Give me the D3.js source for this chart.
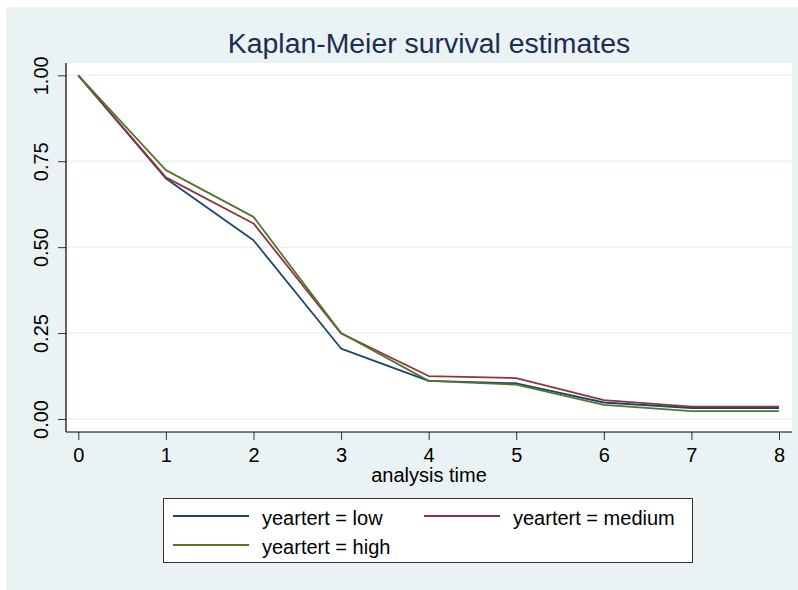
<!DOCTYPE html>
<html>
<head>
<meta charset="utf-8">
<script src="https://cdn.jsdelivr.net/npm/d3@7"></script>
<style>
  body { margin: 0; background: #fff; }
  svg { display: block; font-family: "Liberation Sans", Arial, Helvetica, sans-serif; }
  .tick text { font-size: 20px; fill: #000; }
  .tick line { stroke: #333; }
</style>
</head>
<body>
<div class="wrapper"></div>
<script>
// chart values
var times = [0, 1, 2, 3, 4, 5, 6, 7, 8];
var lowVals = [1.0, 0.70, 0.52, 0.205, 0.111, 0.104, 0.048, 0.032, 0.032];
var mediumVals = [1.0, 0.703, 0.569, 0.249, 0.125, 0.119, 0.055, 0.036, 0.036];
var highVals = [1.0, 0.724, 0.588, 0.25, 0.111, 0.100, 0.041, 0.023, 0.023];
var seriesNames = ["yeartert = low", "yeartert = medium", "yeartert = high"];
var seriesColors = ["#1a476f", "#90353b", "#55752f"];
var yTicks = [0, 0.25, 0.5, 0.75, 1];
var xTicks = [0, 1, 2, 3, 4, 5, 6, 7, 8];

var W = 798, H = 590;

var svg = d3
  .select(".wrapper")
  .append("svg")
  .attr("width", W)
  .attr("height", H);

// graph region background
svg.append("rect")
  .attr("x", 6).attr("y", 7)
  .attr("width", 792).attr("height", 583)
  .attr("fill", "#eaf2f3");

// plot region
var plot = { left: 66, right: 792, top: 63, bottom: 432 };
svg.append("rect")
  .attr("x", plot.left).attr("y", plot.top)
  .attr("width", plot.right - plot.left).attr("height", plot.bottom - plot.top)
  .attr("fill", "#fff");

var x = d3.scaleLinear().domain([0, 8]).range([78.3, 779]);
var y = d3.scaleLinear().domain([0, 1]).range([419, 75.3]);

// gridlines
svg.append("g")
  .selectAll("line")
  .data(yTicks)
  .enter()
  .append("line")
  .attr("x1", plot.left + 1).attr("x2", plot.right)
  .attr("y1", function(d) { return y(d); })
  .attr("y2", function(d) { return y(d); })
  .attr("stroke", "#eaf2f3")
  .attr("stroke-width", 1.5);

// title
svg.append("text")
  .attr("x", (plot.left + plot.right) / 2)
  .attr("y", 53)
  .attr("text-anchor", "middle")
  .attr("font-size", 28.4)
  .attr("fill", "#1c2e52")
  .text("Kaplan-Meier survival estimates");

// series lines
var line = d3.line()
  .x(function(d, i) { return x(times[i]); })
  .y(function(d) { return y(d); });

var allSeries = [lowVals, mediumVals, highVals];
svg.append("g")
  .selectAll("path")
  .data(allSeries)
  .enter()
  .append("path")
  .attr("d", line)
  .attr("fill", "none")
  .attr("stroke", function(d, i) { return seriesColors[i]; })
  .attr("stroke-width", 1.8)
  .attr("stroke-linejoin", "round");

// y axis
var yAxis = svg.append("g")
  .attr("transform", "translate(" + plot.left + ",0)")
  .call(d3.axisLeft(y).tickValues(yTicks).tickSize(8).tickFormat(d3.format(".2f")));
yAxis.select(".domain").remove();
yAxis.selectAll(".tick text")
  .attr("x", 0).attr("dy", 0)
  .attr("text-anchor", "middle")
  .attr("transform", "translate(-18,0) rotate(-90)");

// x axis
var xAxis = svg.append("g")
  .attr("transform", "translate(0," + plot.bottom + ")")
  .call(d3.axisBottom(x).tickValues(xTicks).tickSize(8).tickFormat(d3.format("d")));
xAxis.select(".domain").remove();
xAxis.selectAll(".tick text").attr("y", 30).attr("dy", 0);

// axis lines
svg.append("line")
  .attr("x1", plot.left).attr("x2", plot.left)
  .attr("y1", plot.top).attr("y2", plot.bottom)
  .attr("stroke", "#000").attr("stroke-width", 1.2);
svg.append("line")
  .attr("x1", plot.left).attr("x2", plot.right)
  .attr("y1", plot.bottom).attr("y2", plot.bottom)
  .attr("stroke", "#000").attr("stroke-width", 1.2);

// axis title
svg.append("text")
  .attr("x", (plot.left + plot.right) / 2)
  .attr("y", 482)
  .attr("text-anchor", "middle")
  .attr("font-size", 20)
  .attr("fill", "#000")
  .text("analysis time");

// legend
svg.append("rect")
  .attr("x", 163.5).attr("y", 498.5)
  .attr("width", 529).attr("height", 64)
  .attr("fill", "#fff")
  .attr("stroke", "#333")
  .attr("stroke-width", 1);

var legendPos = [
  { lx: 173, tx: 262, ly: 516 },
  { lx: 424, tx: 513, ly: 516 },
  { lx: 173, tx: 262, ly: 545 }
];

var legend = svg.append("g")
  .selectAll("g")
  .data(seriesNames)
  .enter()
  .append("g");

legend.append("line")
  .attr("x1", function(d, i) { return legendPos[i].lx; })
  .attr("x2", function(d, i) { return legendPos[i].lx + 76; })
  .attr("y1", function(d, i) { return legendPos[i].ly; })
  .attr("y2", function(d, i) { return legendPos[i].ly; })
  .attr("stroke", function(d, i) { return seriesColors[i]; })
  .attr("stroke-width", 1.8);

legend.append("text")
  .attr("x", function(d, i) { return legendPos[i].tx; })
  .attr("y", function(d, i) { return legendPos[i].ly + 9; })
  .attr("font-size", 20)
  .attr("fill", "#000")
  .text(function(d) { return d; });
</script>
</body>
</html>
